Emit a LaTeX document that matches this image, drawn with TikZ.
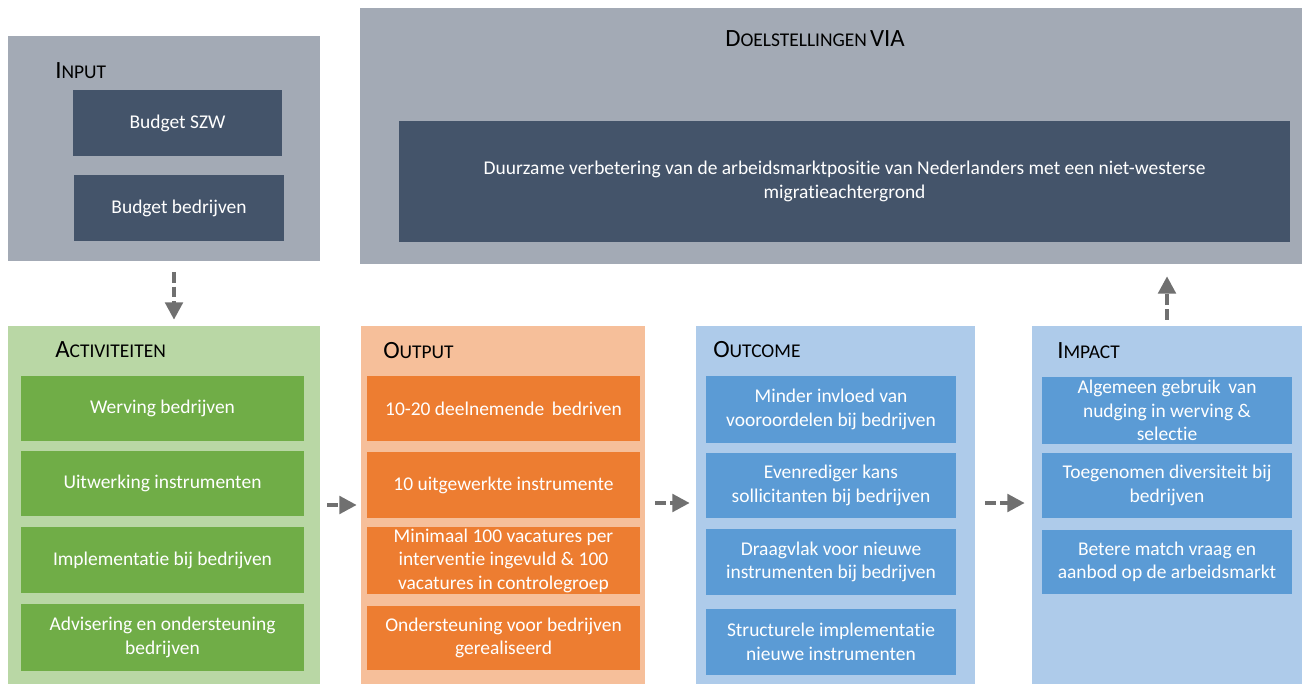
\documentclass[tikz,border=0pt]{standalone}
\usepackage{fontspec}
\setmainfont{Carlito}[Ligatures=NoCommon]
\usetikzlibrary{arrows.meta}

\definecolor{grijs}{HTML}{A3AAB5}
\definecolor{donker}{HTML}{44546A}
\definecolor{lichtgroen}{HTML}{B9D7A5}
\definecolor{groen}{HTML}{70AD47}
\definecolor{lichtoranje}{HTML}{F6BF9A}
\definecolor{oranje}{HTML}{ED7D31}
\definecolor{lichtblauw}{HTML}{AECBEA}
\definecolor{blauw}{HTML}{5B9BD5}
\definecolor{pijlgrijs}{HTML}{707070}

\newcommand\tekst{\fontsize{14.6}{17.6}\selectfont}
% fake small caps: 1 := capital, 2 := rest
\newcommand\kopje[2]{{\fontsize{18.6}{18}\selectfont #1}{\fontsize{14.6}{14}\selectfont #2}}

\tikzset{
    vak/.style={draw=none, inner sep=0pt, align=center, text=white, font=\tekst},
    kop/.style={anchor=base west, inner sep=0pt},
    pijl/.style={draw=pijlgrijs, line width=3pt, dash pattern=on 8pt off 3pt,
        -{Triangle[length=13pt,width=13pt]}}
}

\begin{document}
\begin{tikzpicture}[x=0.75pt, y=-0.75pt]
% Variables: 1,2 := top left, 3,4 := bottom right, 5 := name, 6 := colour, 7 := text.
\def\vak(#1,#2)(#3,#4)#5#6#7{
    \node[vak, fill=#6, minimum width={(#3-#1)*0.75pt}, minimum height={(#4-#2)*0.75pt}]
        (#5) at ({(#1+#3)/2},{(#2+#4)/2}) {#7};
}
\useasboundingbox (0,0) rectangle (1306,684);

% input
\vak(8,36)(320,261){input}{grijs}{}
\node[kop] (inputkop) at (55,79) {\kopje{I}{NPUT}};
\vak(73,90)(282,156){szw}{donker}{Budget SZW}
\vak(74,175)(284,241){bedrijven}{donker}{Budget bedrijven}

% doelstellingen
\vak(360,8)(1302,264){doel}{grijs}{}
\node[kop, anchor=base] (doelkop) at (815,47) {\kopje{D}{OELSTELLINGEN} \kopje{VIA}{}};
\vak(399,121)(1290,242){doelstelling}{donker}{Duurzame verbetering van de arbeidsmarktpositie van Nederlanders met een niet-westerse\\migratieachtergrond}

% activiteiten
\vak(8,326)(320,684){activ}{lichtgroen}{}
\node[kop] (activkop) at (55,357) {\kopje{A}{CTIVITEITEN}};
\vak(21,376)(304,441){werving}{groen}{Werving bedrijven}
\vak(21,451)(304,516){uitwerking}{groen}{Uitwerking instrumenten}
\vak(21,527)(304,593){implementatie}{groen}{Implementatie bij bedrijven}
\vak(21,604)(304,671){advisering}{groen}{Advisering en ondersteuning\\bedrijven}

% output
\vak(361,326)(645,684){output}{lichtoranje}{}
\node[kop] (outputkop) at (383,358) {\kopje{O}{UTPUT}};
\vak(367,376)(640,441){deelnemend}{oranje}{10-20 deelnemende\, bedriven}
\vak(367,452)(640,518){uitgewerkt}{oranje}{10 uitgewerkte instrumente}
\vak(367,527)(640,594){vacatures}{oranje}{Minimaal 100 vacatures per\\interventie ingevuld \& 100\\vacatures in controlegroep}
\vak(367,606)(640,670){ondersteuning}{oranje}{Ondersteuning voor bedrijven\\gerealiseerd}

% outcome
\vak(696,326)(975,684){outcome}{lichtblauw}{}
\node[kop] (outcomekop) at (713,357) {\kopje{O}{UTCOME}};
\vak(706,376)(956,443){invloed}{blauw}{Minder invloed van\\vooroordelen bij bedrijven}
\vak(706,453)(956,518){kans}{blauw}{Evenrediger kans\\sollicitanten bij bedrijven}
\vak(706,529)(956,595){draagvlak}{blauw}{Draagvlak voor nieuwe\\instrumenten bij bedrijven}
\vak(706,609)(956,675){structureel}{blauw}{Structurele implementatie\\nieuwe instrumenten}

% impact
\vak(1032,326)(1302,684){impact}{lichtblauw}{}
\node[kop] (impactkop) at (1057,358) {\kopje{I}{MPACT}};
\vak(1042,377)(1292,444){nudging}{blauw}{Algemeen gebruik\, van\\nudging in werving \&\\selectie}
\vak(1042,453)(1292,518){diversiteit}{blauw}{Toegenomen diversiteit bij\\bedrijven}
\vak(1042,530)(1292,594){match}{blauw}{Betere match vraag en\\aanbod op de arbeidsmarkt}

% arrows
\draw[pijl, shorten <=8pt, shorten >=4.5pt] ([xshift=7.5pt]input.south) -- ([xshift=7.5pt]activ.north);
\draw[pijl, shorten <=5.25pt, shorten >=3pt] (activ.east) -- (output.west);
\draw[pijl, shorten <=7.5pt, shorten >=4.5pt] ([yshift=1.5pt]output.east) -- ([yshift=1.5pt]outcome.west);
\draw[pijl, shorten <=7.5pt, shorten >=5.25pt] ([yshift=1.5pt]outcome.east) -- ([yshift=1.5pt]impact.west);
\draw[pijl, shorten <=4.5pt, shorten >=9pt] (impact.north) -- (impact.north |- doel.south);
\end{tikzpicture}
\end{document}
